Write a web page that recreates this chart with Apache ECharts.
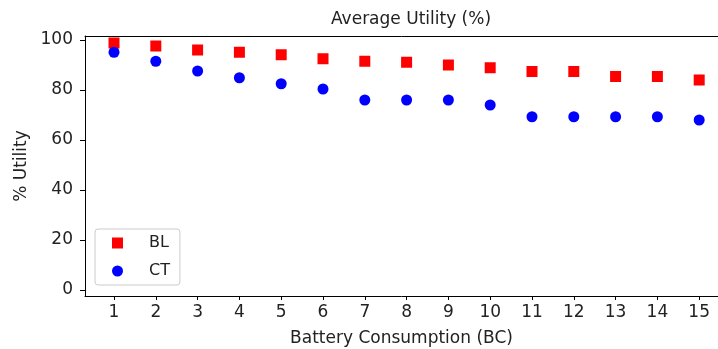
<!DOCTYPE html>
<html>
<head>
<meta charset="utf-8">
<script src="https://cdn.jsdelivr.net/npm/echarts@6/dist/echarts.min.js"></script>
<style>html,body{margin:0;padding:0;background:#fff;}#c{width:718px;height:349px;}</style>
</head>
<body>
<div id="c"></div>
<script>
const categories = [1,2,3,4,5,6,7,8,9,10,11,12,13,14,15];
const blValues = [98.8,97.6,96,95.1,94.1,92.5,91.5,91.1,90,88.9,87.4,87.4,85.4,85.4,84];
const ctValues = [95.1,91.5,87.6,84.9,82.5,80.4,76,76,76,74,69.3,69.3,69.3,69.3,68];
const yTicks = [0,20,40,60,80,100];
const xTicks = categories;

const font = 'DejaVu Sans';
const txt = '#222';
const fs = 17;
const chart = echarts.init(document.getElementById('c'), null, {renderer:'canvas'});
chart.setOption({
  animation:false,
  backgroundColor:'#fff',
  title:{text:'Average Utility (%)', left:406, top:6, textAlign:'center',
    textStyle:{fontFamily:font, fontSize:fs, fontWeight:'normal', color:txt}},
  grid:{left:85, right:0, top:36, bottom:53, show:false, outerBoundsMode:'none', containLabel:false},
  legend:{
    orient:'vertical', left:95, top:229, padding:[6,10,6,17],
    itemGap:12, itemWidth:11, itemHeight:11,
    borderColor:'#ccc', borderWidth:1, borderRadius:3, backgroundColor:'rgba(255,255,255,0.8)',
    textStyle:{fontFamily:font, fontSize:16, color:txt, padding:[0,0,0,21]},
    data:[{name:'BL', icon:'rect'},{name:'CT', icon:'circle'}]
  },
  xAxis:[{type:'value', min:0.306, max:15.45,
    name:'Battery Consumption (BC)', nameLocation:'middle', nameGap:34,
    nameTextStyle:{fontFamily:font, fontSize:fs, color:txt},
    axisLine:{show:true, onZero:false, lineStyle:{color:'#000', width:1}},
    axisTick:{show:true, length:4, lineStyle:{color:'#000'}, customValues:xTicks},
    axisLabel:{fontFamily:font, fontSize:fs, color:txt, margin:8, customValues:xTicks},
    splitLine:{show:false}},
    {type:'value', position:'top', min:0.306, max:15.45,
    axisLine:{show:true, onZero:false, lineStyle:{color:'#000', width:1}},
    axisTick:{show:false}, axisLabel:{show:false}, splitLine:{show:false}}],
  yAxis:{type:'value', min:-2.4, max:101.6,
    name:'% Utility', nameLocation:'middle', nameGap:55, nameRotate:90,
    nameTextStyle:{fontFamily:font, fontSize:fs, color:txt},
    axisLine:{show:true, onZero:false, lineStyle:{color:'#000', width:1}},
    axisTick:{show:true, length:5, lineStyle:{color:'#000'}, customValues:yTicks},
    axisLabel:{fontFamily:font, fontSize:fs, color:txt, margin:12, customValues:yTicks},
    splitLine:{show:false}},
  series:[
    {name:'BL', type:'scatter', symbol:'rect', symbolSize:11, itemStyle:{color:'#ff0000', opacity:1},
      data:categories.map((c,i)=>[c, blValues[i]]), z:2},
    {name:'CT', type:'scatter', symbol:'circle', symbolSize:11, itemStyle:{color:'#0000ff', opacity:1},
      data:categories.map((c,i)=>[c, ctValues[i]]), z:3}
  ]
});
</script>
</body>
</html>
